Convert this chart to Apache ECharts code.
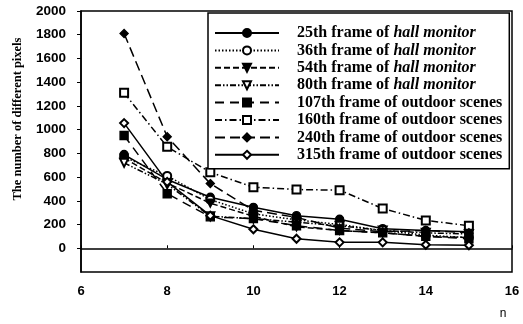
<!DOCTYPE html>
<html><head><meta charset="utf-8">
<script src="https://cdn.jsdelivr.net/npm/echarts@6/dist/echarts.min.js"></script>
<style>html,body{margin:0;padding:0;background:#fff}#c{width:523px;height:324px}</style>
</head><body><div id="c"></div>
<script>
const xValues = [7, 8, 9, 10, 11, 12, 13, 14, 15];
const yTicks = [0, 200, 400, 600, 800, 1000, 1200, 1400, 1600, 1800, 2000];
const xTicks = [6, 8, 10, 12, 14, 16];
const names = [
  '25th frame of hall monitor',
  '36th frame of hall monitor',
  '54th frame of hall monitor',
  '80th frame of hall monitor',
  '107th frame of outdoor scenes',
  '160th frame of outdoor scenes',
  '240th frame of outdoor scenes',
  '315th frame of outdoor scenes'
];
const f25  = [790, 580, 430, 345, 275, 245, 165, 150, 140];
const f36  = [770, 610, 410, 290, 240, 200, 150, 110, 90];
const f54  = [760, 550, 380, 270, 180, 150, 130, 100, 90];
const f80  = [720, 540, 270, 250, 220, 190, 150, 130, 120];
const f107 = [950, 460, 265, 250, 190, 150, 130, 100, 80];
const f160 = [1310, 855, 640, 515, 495, 490, 335, 235, 190];
const f240 = [1810, 940, 545, 320, 260, 170, 140, 150, 130];
const f315 = [1055, 560, 275, 160, 80, 50, 50, 30, 25];
const allData = [f25, f36, f54, f80, f107, f160, f240, f315];

const styles = [
  {symbol: 'circle', dash: 'solid', rot: 0},
  {symbol: 'emptyCircle', dash: [1.5, 2], rot: 0},
  {symbol: 'triangle', dash: [6, 3], rot: 180},
  {symbol: 'emptyTriangle', dash: [6, 2, 1.5, 2, 1.5, 2], rot: 180},
  {symbol: 'rect', dash: [9, 6], rot: 0},
  {symbol: 'emptyRect', dash: [7, 3, 1.5, 3], rot: 0},
  {symbol: 'diamond', dash: [10, 5], rot: 0},
  {symbol: 'emptyDiamond', dash: 'solid', rot: 0}
];

const series = names.map((n, i) => ({
  name: n,
  type: 'line',
  data: xValues.map((x, j) => [x, allData[i][j]]),
  symbol: styles[i].symbol,
  symbolRotate: styles[i].rot,
  symbolSize: 8,
  lineStyle: {color: '#000', width: 1.5, type: styles[i].dash},
  itemStyle: {color: '#000', borderColor: '#000', borderWidth: 1.4},
  emphasis: {disabled: true},
  animation: false
}));

const chart = echarts.init(document.getElementById('c'));
chart.setOption({
  animation: false,
  backgroundColor: '#fff',
  grid: {left: 81, right: 11, top: 11, bottom: 52, show: true, borderColor: '#000', borderWidth: 1.5, backgroundColor: 'transparent'},
  xAxis: {
    type: 'value', min: 6, max: 16, interval: 2,
    axisLine: {show: true, lineStyle: {color: '#000', width: 1.5}},
    axisTick: {show: true, inside: true, length: 3, lineStyle: {color: '#000'}},
    splitLine: {show: false},
    axisLabel: {color: '#000', fontFamily: 'Liberation Sans', fontWeight: 'bold', fontSize: 13, margin: 13,
      customValues: xTicks, formatter: v => String(v)}
  },
  yAxis: {
    type: 'value', min: -200, max: 2000, interval: 200,
    axisLine: {show: true, lineStyle: {color: '#000', width: 1.5}},
    axisTick: {show: true, length: 4, lineStyle: {color: '#000'}, customValues: yTicks},
    splitLine: {show: false},
    axisLabel: {color: '#000', fontFamily: 'Liberation Sans', fontWeight: 'bold', fontSize: 13.5, margin: 15,
      customValues: yTicks, formatter: v => String(v)}
  },
  legend: {
    orient: 'vertical', left: 208, top: 13,
    data: names,
    itemWidth: 64, itemHeight: 10, itemGap: 1.4,
    padding: [12, 7, 6, 6],
    borderColor: '#000', borderWidth: 1.5,
    backgroundColor: '#fff',
    selectedMode: false,
    formatter: function (n) {
      if (n.indexOf('hall monitor') >= 0) return n.replace('hall monitor', '{i|hall monitor}');
      return n;
    },
    textStyle: {color: '#000', fontFamily: 'Liberation Serif', fontWeight: 'bold', fontSize: 16, lineHeight: 16, padding: [0, 0, 0, 13],
      rich: {i: {fontFamily: 'Liberation Serif', fontStyle: 'italic', fontWeight: 'bold', fontSize: 16, lineHeight: 16, color: '#000'}}}
  },
  graphic: [{
    type: 'text', x: 18, y: 119, rotation: Math.PI / 2,
    style: {text: 'The number of different pixels', fill: '#000', font: 'bold 12.5px "Liberation Serif"', align: 'center', verticalAlign: 'middle'}
  }, {
    type: 'text', x: 503, y: 314,
    style: {text: 'n', fill: '#000', font: '12px "Liberation Sans"', align: 'center', verticalAlign: 'middle'}
  }],
  series: series
});
</script></body></html>
